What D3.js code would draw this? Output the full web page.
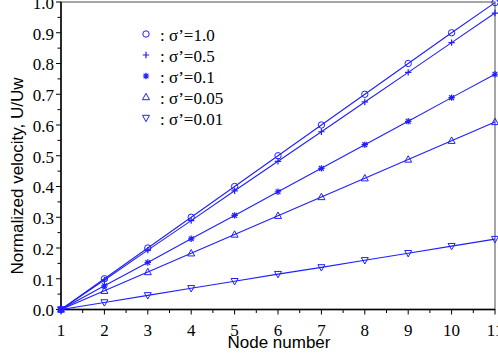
<!DOCTYPE html>
<html>
<head>
<meta charset="utf-8">
<script src="https://cdn.jsdelivr.net/npm/d3@7"></script>
<style>
  body { margin: 0; background: #fff; }
  svg { display: block; }
  .serif { font-family: "Liberation Serif", "Times New Roman", serif; font-size: 17px; }
  .sans { font-family: "Liberation Sans", Arial, sans-serif; font-size: 17px; }
</style>
</head>
<body>
<svg width="498" height="360"></svg>
<script>
const nodes = [1, 2, 3, 4, 5, 6, 7, 8, 9, 10, 11];
const labels = ["1.0", "0.5", "0.1", "0.05", "0.01"];
const sig10 = [0, 0.1, 0.2, 0.3, 0.4, 0.5, 0.6, 0.7, 0.8, 0.9, 0.998];
const sig05 = [0, 0.096, 0.193, 0.289, 0.386, 0.482, 0.578, 0.675, 0.771, 0.868, 0.964];
const sig01 = [0, 0.077, 0.153, 0.23, 0.306, 0.383, 0.459, 0.536, 0.612, 0.689, 0.765];
const sig005 = [0, 0.061, 0.122, 0.183, 0.244, 0.305, 0.366, 0.427, 0.488, 0.549, 0.61];
const sig001 = [0, 0.023, 0.046, 0.069, 0.092, 0.115, 0.137, 0.16, 0.183, 0.206, 0.229];
const series = [sig10, sig05, sig01, sig005, sig001];
const markers = ["circle", "plus", "star", "up", "down"];
const xTicks = [1, 2, 3, 4, 5, 6, 7, 8, 9, 10, 11];
const yTicks = [0, 0.1, 0.2, 0.3, 0.4, 0.5, 0.6, 0.7, 0.8, 0.9, 1.0];

const blue = "#1f1fff";
const svg = d3.select("svg");
const x = d3.scaleLinear().domain([1, 11]).range([61, 495]);
const y = d3.scaleLinear().domain([0, 1]).range([309.5, 2]);

// frame
svg.append("rect")
  .attr("x", x(1)).attr("y", y(1))
  .attr("width", x(11) - x(1)).attr("height", y(0) - y(1))
  .attr("fill", "none").attr("stroke", "#888").attr("stroke-width", 1.5);

// y axis
const yAxis = svg.append("g").attr("transform", `translate(${x(1)},0)`);
yAxis.append("line").attr("y1", y(0)).attr("y2", y(1)).attr("stroke", "#000").attr("stroke-width", 1.5);
yAxis.selectAll("line.minor").data(d3.range(0, 1.001, 0.05)).enter().append("line")
  .attr("class", "minor")
  .attr("x1", (d, i) => i % 2 === 0 ? -5 : -3.5).attr("x2", 0)
  .attr("y1", d => y(d)).attr("y2", d => y(d))
  .attr("stroke", "#000").attr("stroke-width", 1);
yAxis.selectAll("text").data(yTicks).enter().append("text")
  .attr("class", "serif")
  .attr("x", -7).attr("y", d => y(d)).attr("dy", "0.4em")
  .attr("text-anchor", "end")
  .text(d => d.toFixed(1));

// x axis
const xAxis = svg.append("g").attr("transform", `translate(0,${y(0)})`);
xAxis.append("line").attr("x1", x(1)).attr("x2", x(11)).attr("stroke", "#000").attr("stroke-width", 1.5);
xAxis.selectAll("line.minor").data(d3.range(1, 11.001, 0.5)).enter().append("line")
  .attr("class", "minor")
  .attr("x1", d => x(d)).attr("x2", d => x(d))
  .attr("y1", 0).attr("y2", (d, i) => i % 2 === 0 ? 5 : 3.5)
  .attr("stroke", "#000").attr("stroke-width", 1);
xAxis.selectAll("text").data(xTicks).enter().append("text")
  .attr("class", "serif")
  .attr("x", d => x(d)).attr("y", 26)
  .attr("text-anchor", "middle")
  .text(d => d);

// titles
svg.append("text")
  .attr("class", "sans")
  .attr("x", 279).attr("y", 348)
  .attr("text-anchor", "middle")
  .text("Node number");
svg.append("text")
  .attr("class", "sans")
  .attr("transform", "translate(23,176) rotate(-90)")
  .attr("text-anchor", "middle")
  .text("Normalized velocity, U/Uw");

function drawMarker(g, type, cx, cy) {
  const s = 3.2;
  if (type === "circle") {
    g.append("circle").attr("cx", cx).attr("cy", cy).attr("r", s)
      .attr("fill", "none").attr("stroke", blue).attr("stroke-width", 1);
  } else if (type === "plus") {
    g.append("path").attr("d", `M${cx - s},${cy}H${cx + s}M${cx},${cy - s}V${cy + s}`)
      .attr("stroke", blue).attr("stroke-width", 1.2);
  } else if (type === "star") {
    const d = s * 0.75;
    g.append("path")
      .attr("d", `M${cx - s},${cy}H${cx + s}M${cx},${cy - s}V${cy + s}M${cx - d},${cy - d}L${cx + d},${cy + d}M${cx - d},${cy + d}L${cx + d},${cy - d}`)
      .attr("stroke", blue).attr("stroke-width", 1.2);
  } else if (type === "up") {
    g.append("path").attr("d", `M${cx},${cy - s - 0.5}L${cx + s + 0.3},${cy + s - 0.5}L${cx - s - 0.3},${cy + s - 0.5}Z`)
      .attr("fill", "none").attr("stroke", blue).attr("stroke-width", 1);
  } else {
    g.append("path").attr("d", `M${cx},${cy + s + 0.5}L${cx + s + 0.3},${cy - s + 0.5}L${cx - s - 0.3},${cy - s + 0.5}Z`)
      .attr("fill", "none").attr("stroke", blue).attr("stroke-width", 1);
  }
}

const line = d3.line().x((d, i) => x(nodes[i])).y(d => y(d));
const plot = svg.append("g");
series.forEach((vals, k) => {
  plot.append("path").attr("d", line(vals))
    .attr("fill", "none").attr("stroke", blue).attr("stroke-width", 1.1);
  vals.forEach((v, i) => drawMarker(plot, markers[k], x(nodes[i]), y(v)));
});

// legend
const legY = [34, 55, 76, 97, 118];
const leg = svg.append("g");
labels.forEach((lab, k) => {
  drawMarker(leg, markers[k], 146, legY[k]);
  leg.append("text")
    .attr("class", "serif")
    .attr("x", 160).attr("y", legY[k] + 6.5)
    .text(": \u03c3\u2019=" + lab);
});
</script>
</body>
</html>
